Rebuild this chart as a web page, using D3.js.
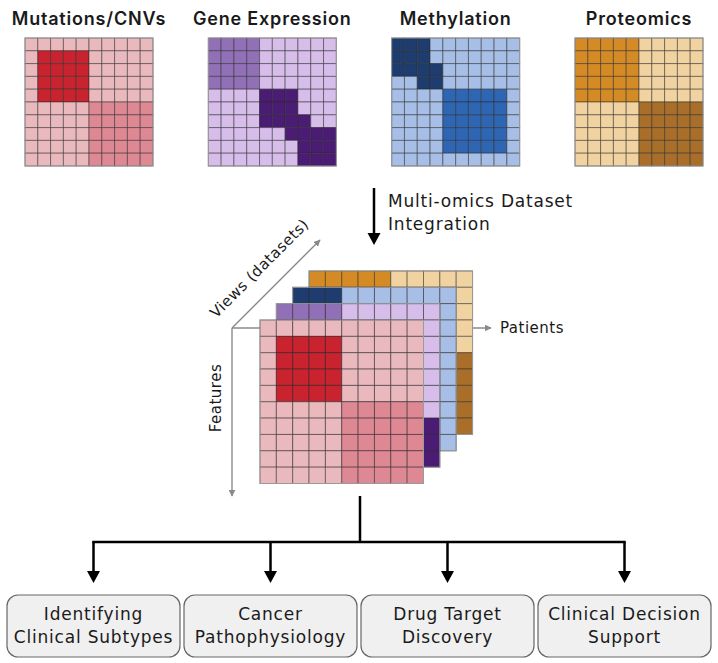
<!DOCTYPE html>
<html>
<head>
<meta charset="utf-8">
<script src="https://cdn.jsdelivr.net/npm/d3@7"></script>
<style>
  html, body { margin: 0; padding: 0; background: #fff; }
  svg { display: block; }
  text { font-family: "DejaVu Sans", Inter, sans-serif; fill: #1a1a1a; }
  text.title { font-family: Inter, "Open Sans", sans-serif; }
</style>
</head>
<body>
<svg id="chart" width="718" height="663"></svg>
<script>
// ---------- DATA ----------
const datasets = ["Mutations/CNVs", "Gene Expression", "Methylation", "Proteomics"];

// each cell: 0 = background level, 1 = first cluster, 2 = second cluster
const mutationsMatrix = [
  "0000000000",
  "0111100000",
  "0111100000",
  "0111100000",
  "0111100000",
  "0000022222",
  "0000022222",
  "0000022222",
  "0000022222",
  "0000022222"
];
const expressionMatrix = [
  "1111000000",
  "1111000000",
  "1111000000",
  "1111000000",
  "0000222000",
  "0000222000",
  "0000222200",
  "0000002222",
  "0000000222",
  "0000000222"
];
const methylationMatrix = [
  "1110000000",
  "1110000000",
  "1111000000",
  "0011000000",
  "0000222220",
  "0000222220",
  "0000222220",
  "0000222220",
  "0000222220",
  "0000000000"
];
const proteomicsMatrix = [
  "1111100000",
  "1111100000",
  "1111100000",
  "1111100000",
  "1111100000",
  "0000022222",
  "0000022222",
  "0000022222",
  "0000022222",
  "0000022222"
];
const matrices = [mutationsMatrix, expressionMatrix, methylationMatrix, proteomicsMatrix];

const palettes = [
  ["#e9b9be", "#c8232f", "#de8893"],
  ["#d6bdea", "#9270b8", "#4a1c73"],
  ["#a7bee6", "#1e3c6d", "#2e66b3"],
  ["#f0d3a1", "#d48b25", "#a86e2a"]
];

const integrationLabel = ["Multi-omics Dataset", "Integration"];
const axisLabels = { views: "Views (datasets)", patients: "Patients", features: "Features" };
const outcomes = [
  ["Identifying", "Clinical Subtypes"],
  ["Cancer", "Pathophysiology"],
  ["Drug Target", "Discovery"],
  ["Clinical Decision", "Support"]
];

// ---------- DRAW ----------
const svg = d3.select("#chart");
const nCols = 10, nRows = 10;
const idx = d3.range(nCols);

function toCells(matrix) {
  const cells = [];
  matrix.forEach((row, r) => row.split("").forEach((v, c) => cells.push({ r, c, v: +v })));
  return cells;
}

function drawGrid(g, matrix, palette, x0, y0, size) {
  const x = d3.scaleBand().domain(idx).range([x0, x0 + size]);
  const y = d3.scaleBand().domain(d3.range(nRows)).range([y0, y0 + size]);
  const color = d3.scaleOrdinal().domain([0, 1, 2]).range(palette);
  g.selectAll("rect.cell")
    .data(toCells(matrix))
    .join("rect")
    .attr("class", "cell")
    .attr("x", d => x(d.c))
    .attr("y", d => y(d.r))
    .attr("width", x.bandwidth())
    .attr("height", y.bandwidth())
    .attr("fill", d => color(d.v))
    .attr("stroke", "#2a2a2a")
    .attr("stroke-opacity", 0.5)
    .attr("stroke-width", 1);
  g.append("rect")
    .attr("x", x0).attr("y", y0).attr("width", size).attr("height", size)
    .attr("fill", "none").attr("stroke", "#9a9a9a").attr("stroke-width", 1);
  return x.bandwidth();
}

// top small matrices
const topX = d3.scalePoint().domain(datasets).range([25, 575]);
const topY = 38, topSize = 128;
datasets.forEach((name, i) => {
  const g = svg.append("g");
  drawGrid(g, matrices[i], palettes[i], topX(name), topY, topSize);
  svg.append("text")
    .attr("class", "title")
    .attr("x", topX(name) + topSize / 2)
    .attr("y", 25)
    .attr("text-anchor", "middle")
    .attr("font-size", 18)
    .attr("font-weight", 600)
    .attr("letter-spacing", 0.8)
    .text(name);
});

// defs: arrowheads
const defs = svg.append("defs");
defs.append("marker").attr("id", "grayHead")
  .attr("viewBox", "0 0 10 10").attr("refX", 9).attr("refY", 5)
  .attr("markerWidth", 7).attr("markerHeight", 7).attr("markerUnits", "userSpaceOnUse")
  .attr("orient", "auto")
  .append("path").attr("d", "M0,0 L10,5 L0,10 Z").attr("fill", "#8a8a8a");

function blackArrow(x, y1, y2, lw) {
  svg.append("line").attr("x1", x).attr("x2", x).attr("y1", y1).attr("y2", y2 - 11)
    .attr("stroke", "#000").attr("stroke-width", lw);
  svg.append("path")
    .attr("d", `M${x - 6.5},${y2 - 12} L${x + 6.5},${y2 - 12} L${x},${y2} Z`)
    .attr("fill", "#000");
}

// integration arrow + label
blackArrow(374, 188, 245, 2.5);
integrationLabel.forEach((t, i) => {
  svg.append("text").attr("x", 388).attr("y", 207 + i * 23)
    .attr("font-size", 17).attr("letter-spacing", 0.8).text(t);
});

// axes (behind stack)
const ox = 232, oy = 328;
const axisG = svg.append("g").attr("stroke", "#8a8a8a").attr("stroke-width", 1.4);
axisG.append("line").attr("x1", ox).attr("y1", oy).attr("x2", 491).attr("y2", oy).attr("marker-end", "url(#grayHead)");
axisG.append("line").attr("x1", ox).attr("y1", oy).attr("x2", ox).attr("y2", 496).attr("marker-end", "url(#grayHead)");
axisG.append("line").attr("x1", ox).attr("y1", oy).attr("x2", 320).attr("y2", 240).attr("marker-end", "url(#grayHead)");

svg.append("text").attr("x", 500).attr("y", 333).attr("font-size", 15).attr("letter-spacing", 0.5).text(axisLabels.patients);
svg.append("text").attr("transform", `translate(221,398) rotate(-90)`)
  .attr("text-anchor", "middle").attr("font-size", 15).attr("letter-spacing", 0.5).text(axisLabels.features);
svg.append("text").attr("transform", `translate(263,272) rotate(-45)`)
  .attr("text-anchor", "middle").attr("font-size", 15).attr("letter-spacing", 0.5).text(axisLabels.views);

// stacked layers: back to front
const stackX = 260, stackY = 320, stackSize = 163.5;
const layerShift = stackSize / nCols;
d3.range(datasets.length - 1, -1, -1).forEach(i => {
  const g = svg.append("g");
  drawGrid(g, matrices[i], palettes[i], stackX + i * layerShift, stackY - i * layerShift, stackSize);
});

// bottom connector tree
const boxW = 173, boxH = 62, boxY = 595;
const boxX = d3.scalePoint().domain(d3.range(outcomes.length)).range([7, 538]);
const lineG = svg.append("g").attr("stroke", "#000").attr("stroke-width", 2.5).attr("fill", "none");
const centers = outcomes.map((o, i) => boxX(i) + boxW / 2);
const busY = 542;
lineG.append("line").attr("x1", 360).attr("x2", 360).attr("y1", 496).attr("y2", busY);
lineG.append("line").attr("x1", d3.min(centers) - 1.25).attr("x2", d3.max(centers) + 1.25).attr("y1", busY).attr("y2", busY);
centers.forEach(cx => blackArrow(cx, busY, 583, 2.5));

outcomes.forEach((lines, i) => {
  const x = boxX(i);
  svg.append("rect").attr("x", x).attr("y", boxY).attr("width", boxW).attr("height", boxH)
    .attr("rx", 11).attr("ry", 11)
    .attr("fill", "#f0f0f0").attr("stroke", "#666").attr("stroke-width", 1.2);
  lines.forEach((t, j) => {
    svg.append("text").attr("x", x + boxW / 2).attr("y", 620 + j * 23)
      .attr("text-anchor", "middle").attr("font-size", 17).attr("letter-spacing", 0.8).text(t);
  });
});
</script>
</body>
</html>
